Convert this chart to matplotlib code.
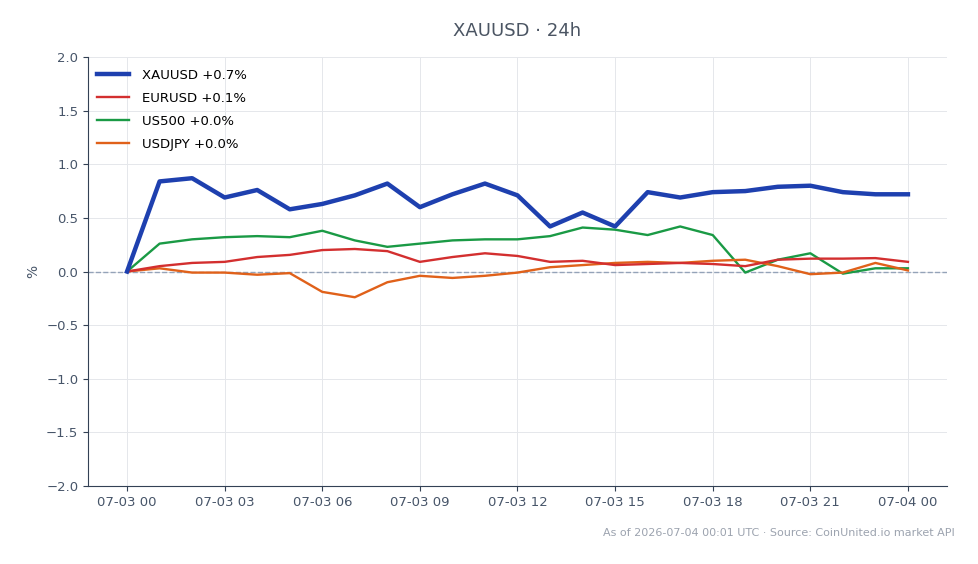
import matplotlib.pyplot as plt
import numpy as np

hours = list(range(25))
tick_labels = ["07-03 00", "07-03 03", "07-03 06", "07-03 09", "07-03 12",
               "07-03 15", "07-03 18", "07-03 21", "07-04 00"]

xauusd = [0.0, 0.84, 0.87, 0.69, 0.76, 0.58, 0.63, 0.71, 0.82, 0.60, 0.72, 0.82, 0.71,
          0.42, 0.55, 0.42, 0.74, 0.69, 0.74, 0.75, 0.79, 0.80, 0.74, 0.72, 0.72]
eurusd = [0.0, 0.05, 0.08, 0.09, 0.135, 0.155, 0.20, 0.21, 0.19, 0.09, 0.135, 0.17, 0.145,
          0.09, 0.10, 0.06, 0.07, 0.08, 0.07, 0.05, 0.11, 0.12, 0.12, 0.125, 0.09]
us500 = [0.0, 0.26, 0.30, 0.32, 0.33, 0.32, 0.38, 0.29, 0.23, 0.26, 0.29, 0.30, 0.30,
         0.33, 0.41, 0.39, 0.34, 0.42, 0.34, -0.01, 0.11, 0.17, -0.02, 0.03, 0.03]
usdjpy = [0.0, 0.03, -0.01, -0.01, -0.03, -0.015, -0.19, -0.24, -0.10, -0.04, -0.06, -0.04, -0.01,
          0.04, 0.06, 0.08, 0.09, 0.08, 0.10, 0.11, 0.05, -0.025, -0.01, 0.08, 0.01]

text_col = "#475569"

fig = plt.figure(figsize=(9.79, 5.64), dpi=100)
ax = fig.add_axes([0.0899, 0.1383, 0.8774, 0.7606])

ax.axhline(0, color="#94a3b8", linestyle="--", linewidth=1, zorder=1)
ax.plot(hours, xauusd, color="#1e40af", linewidth=3.2, label="XAUUSD +0.7%", zorder=5)
ax.plot(hours, eurusd, color="#d32f2f", linewidth=1.7, label="EURUSD +0.1%", zorder=4)
ax.plot(hours, us500, color="#1a9a45", linewidth=1.7, label="US500 +0.0%", zorder=3)
ax.plot(hours, usdjpy, color="#e0611a", linewidth=1.7, label="USDJPY +0.0%", zorder=3)

ax.set_ylim(-2, 2)
ax.set_xlim(-1.2, 25.2)
ax.set_yticks(np.arange(-2, 2.01, 0.5))
ax.set_xticks(range(0, 25, 3))
ax.set_xticklabels(tick_labels)
ax.grid(True, color="#e5e7eb", linewidth=0.7)
ax.set_axisbelow(True)

for s in ["top", "right"]:
    ax.spines[s].set_visible(False)
for s in ["left", "bottom"]:
    ax.spines[s].set_color("#334155")
ax.tick_params(colors="#334155", labelsize=9.5, labelcolor=text_col)
ax.set_ylabel("%", color=text_col, fontsize=10)

ax.legend(loc="upper left", frameon=False, fontsize=9.5, handlelength=2.4,
          handletextpad=1.0, labelspacing=0.75, borderaxespad=0.5,
          bbox_to_anchor=(-0.003, 1.0))

fig.text(0.528, 0.945, "XAUUSD · 24h", ha="center", va="center", fontsize=13, color="#4b5563")
fig.text(0.975, 0.055, "As of 2026-07-04 00:01 UTC · Source: CoinUnited.io market API",
         ha="right", va="center", fontsize=8, color="#9ca3af")

fig.savefig("out.png", dpi=100)
